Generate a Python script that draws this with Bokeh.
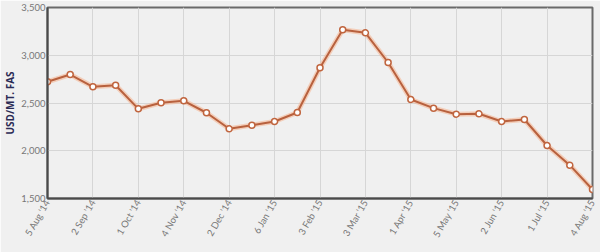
import math
from bokeh.plotting import figure
from bokeh.models import Range1d, FixedTicker, ColumnDataSource
from bokeh.embed import file_html
from bokeh.resources import INLINE

dates = ["5 Aug '14", "19 Aug '14", "2 Sep '14", "16 Sep '14", "1 Oct '14", "21 Oct '14",
         "4 Nov '14", "18 Nov '14", "2 Dec '14", "16 Dec '14", "6 Jan '15", "20 Jan '15",
         "3 Feb '15", "17 Feb '15", "3 Mar '15", "17 Mar '15", "1 Apr '15", "21 Apr '15",
         "5 May '15", "19 May '15", "2 Jun '15", "16 Jun '15", "1 Jul '15", "21 Jul '15",
         "4 Aug '15"]
prices = [2722, 2798, 2670, 2686, 2439, 2502, 2523, 2398, 2230, 2268, 2306, 2401,
          2869, 3267, 3235, 2924, 2537, 2446, 2383, 2387, 2306, 2327, 2055, 1849, 1594]
tick_labels = ["5 Aug '14", "2 Sep '14", "1 Oct '14", "4 Nov '14", "2 Dec '14", "6 Jan '15",
               "3 Feb '15", "3 Mar '15", "1 Apr '15", "5 May '15", "2 Jun '15", "1 Jul '15",
               "4 Aug '15"]
y_ticks = [1500, 2000, 2500, 3000, 3500]

BG = "#f0f0f0"
idx = list(range(len(prices)))
src = ColumnDataSource(dict(x=idx, y=prices))

p = figure(width=600, height=252, output_backend="svg", toolbar_location=None,
           x_range=Range1d(0, len(prices) - 1), y_range=Range1d(1500, 3500),
           min_border_left=0, min_border_right=8, min_border_top=7, min_border_bottom=54)
p.background_fill_color = BG
p.border_fill_color = BG
p.outline_line_color = "#6a6a6a"
p.outline_line_width = 2

tick_pos = [i for i in idx if i % 2 == 0]
p.xaxis.ticker = FixedTicker(ticks=tick_pos)
p.xaxis.major_label_overrides = {i: lab for i, lab in zip(tick_pos, tick_labels)}
p.xaxis.major_label_orientation = math.radians(60)
p.yaxis.ticker = FixedTicker(ticks=y_ticks)
p.yaxis.major_label_overrides = {v: f"{v:,}" for v in y_ticks}

for ax in (p.xaxis, p.yaxis):
    ax.axis_line_color = "#4a4a4a"
    ax.axis_line_width = 2
    ax.major_tick_line_color = None
    ax.minor_tick_line_color = None
    ax.major_tick_out = 0
    ax.major_tick_in = 0
    ax.minor_tick_out = 0
    ax.minor_tick_in = 0
    ax.major_label_text_font = "Lato"
    ax.major_label_text_font_size = "9.5px"
    ax.major_label_text_color = "#777777"
    ax.major_label_standoff = 2

p.yaxis.axis_label = "USD/MT. FAS"
p.yaxis.axis_label_text_font = "Open Sans"
p.yaxis.axis_label_text_font_style = "bold"
p.yaxis.axis_label_text_font_size = "10px"
p.yaxis.axis_label_text_color = "#2b2b55"
p.yaxis.axis_label_standoff = 1

p.xgrid.grid_line_color = "#d6d6d6"
p.ygrid.grid_line_color = "#d6d6d6"
p.xgrid.grid_line_width = 1
p.ygrid.grid_line_width = 1

p.line("x", "y", source=src, line_color="#f5b896", line_width=5, line_alpha=0.6)
p.line("x", "y", source=src, line_color="#b8613e", line_width=2)
p.scatter("x", "y", source=src, size=6, fill_color="white", line_color="#c0653f", line_width=1.5)

open("out.html", "w").write(file_html(p, INLINE))
